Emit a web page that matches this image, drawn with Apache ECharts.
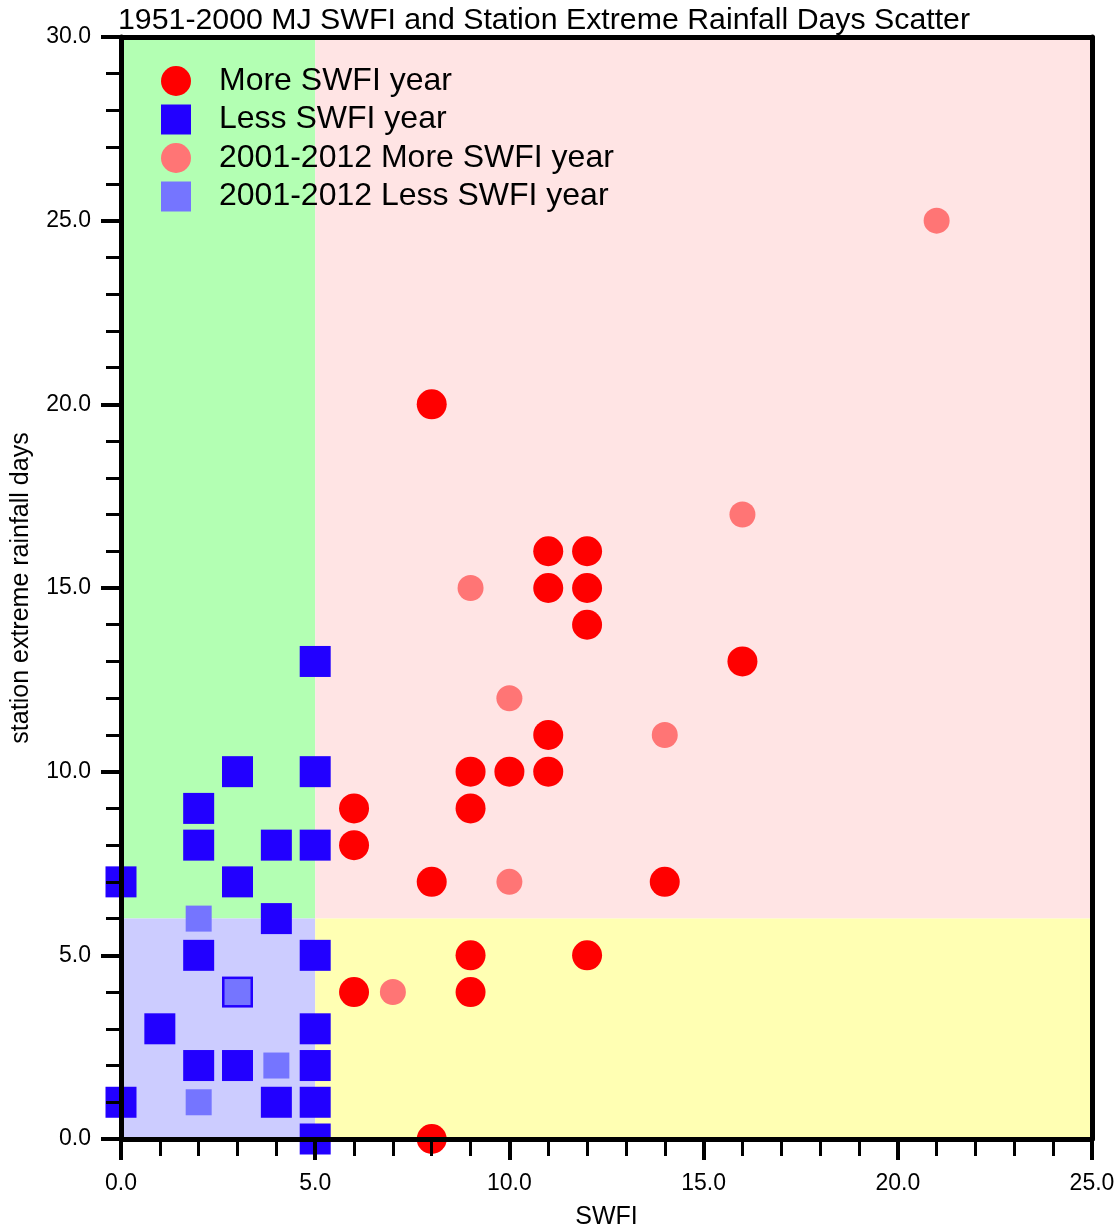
<!DOCTYPE html>
<html><head><meta charset="utf-8">
<script src="https://cdn.jsdelivr.net/npm/echarts@6/dist/echarts.min.js"></script>
<style>html,body{margin:0;padding:0;background:#fff}#c{width:1120px;height:1228px}</style>
</head><body><div id="c"></div>
<script>
const titleText = '1951-2000 MJ SWFI and Station Extreme Rainfall Days Scatter';
const xName = 'SWFI';
const yName = 'station extreme rainfall days';
const seriesNames = ['More SWFI year','Less SWFI year','2001-2012 More SWFI year','2001-2012 Less SWFI year'];
const moreYears = [[8,20],[11,16],[12,16],[11,15],[12,15],[12,14],[16,13],[11,11],[9,10],[10,10],[11,10],[6,9],[9,9],[6,8],[8,7],[14,7],[9,5],[12,5],[6,4],[9,4],[8,0]];
const lessYears = [[5,13],[3,10],[5,10],[2,9],[2,8],[4,8],[5,8],[0,7],[3,7],[4,6],[2,5],[5,5],[3,4],[1,3],[5,3],[2,2],[3,2],[5,2],[0,1],[4,1],[5,1],[5,0]];
const moreRecent = [[21,25],[16,17],[9,15],[10,12],[14,11],[10,7],[7,4]];
const lessRecent = [[2,6],[3,4],[4,2],[2,1]];
const regions = [
  {from:[0,6], to:[5,30], color:'#b3ffb3'},
  {from:[5,6], to:[25,30], color:'#ffe4e4'},
  {from:[0,0], to:[5,6], color:'#ccccff'},
  {from:[5,0], to:[25,6], color:'#ffffb3'}
];
const FONT = 'Liberation Sans, Arial, Helvetica, sans-serif';
const chart = echarts.init(document.getElementById('c'));
const fmt = v => v.toFixed(1);
const axisCommon = {
  type:'value', z:10,
  axisLine:{show:true, onZero:false, lineStyle:{color:'#000', width:5}},
  splitLine:{show:false}
};
chart.setOption({
  animation:false,
  backgroundColor:'#fff',
  title:{text:titleText, left:113, top:1, textStyle:{fontFamily:FONT, fontSize:30.3, fontWeight:'normal', color:'#000'}},
  grid:{left:121, right:28, top:37, bottom:89, containLabel:false, outerBoundsMode:'none'},
  legend:{
    orient:'vertical', left:156, top:60, itemWidth:30, itemHeight:30, itemGap:6.5,
    textStyle:{fontFamily:FONT, fontSize:32, color:'#000', padding:[0,0,0,23]},
    data:seriesNames.map(n=>({name:n}))
  },
  xAxis:[
    Object.assign({}, axisCommon, {
      position:'bottom', min:0, max:25, interval:5,
      name:xName, nameLocation:'middle', nameGap:66,
      nameTextStyle:{fontFamily:FONT, fontSize:25, color:'#000'},
      axisTick:{show:true, length:21, lineStyle:{color:'#000', width:4}},
      minorTick:{show:true, splitNumber:5, length:17, lineStyle:{color:'#000', width:3}},
      axisLabel:{formatter:fmt, margin:33, fontFamily:FONT, fontSize:23, color:'#000'}
    }),
    Object.assign({}, axisCommon, {position:'top', min:0, max:25, axisTick:{show:false}, axisLabel:{show:false}})
  ],
  yAxis:[
    Object.assign({}, axisCommon, {
      position:'left', min:0, max:30, interval:5,
      name:yName, nameLocation:'middle', nameGap:87,
      nameTextStyle:{fontFamily:FONT, fontSize:25, color:'#000'},
      axisTick:{show:true, length:20, lineStyle:{color:'#000', width:4}},
      minorTick:{show:true, splitNumber:5, length:15, lineStyle:{color:'#000', width:3}},
      axisLabel:{formatter:fmt, margin:30, fontFamily:FONT, fontSize:23, color:'#000'}
    }),
    Object.assign({}, axisCommon, {position:'right', min:0, max:30, axisTick:{show:false}, axisLabel:{show:false}})
  ],
  series:[
    {name:'bg', type:'scatter', data:[], z:1, silent:true,
     markArea:{silent:true, data:regions.map(r=>[{coord:r.from, itemStyle:{color:r.color, opacity:1}},{coord:r.to}])}},
    {name:seriesNames[0], type:'scatter', z:3, clip:false, symbol:'circle', symbolSize:30, itemStyle:{color:'#ff0000', opacity:1}, data:moreYears},
    {name:seriesNames[1], type:'scatter', z:3, clip:false, symbol:'rect', symbolSize:31, itemStyle:{color:'#2200ff', opacity:1}, data:lessYears},
    {name:seriesNames[2], type:'scatter', z:4, clip:false, symbol:'circle', symbolSize:26, itemStyle:{color:'#ff7575', opacity:1}, data:moreRecent},
    {name:seriesNames[3], type:'scatter', z:4, clip:false, symbol:'rect', symbolSize:26, itemStyle:{color:'#7575ff', opacity:1}, data:lessRecent}
  ]
});
</script></body></html>
